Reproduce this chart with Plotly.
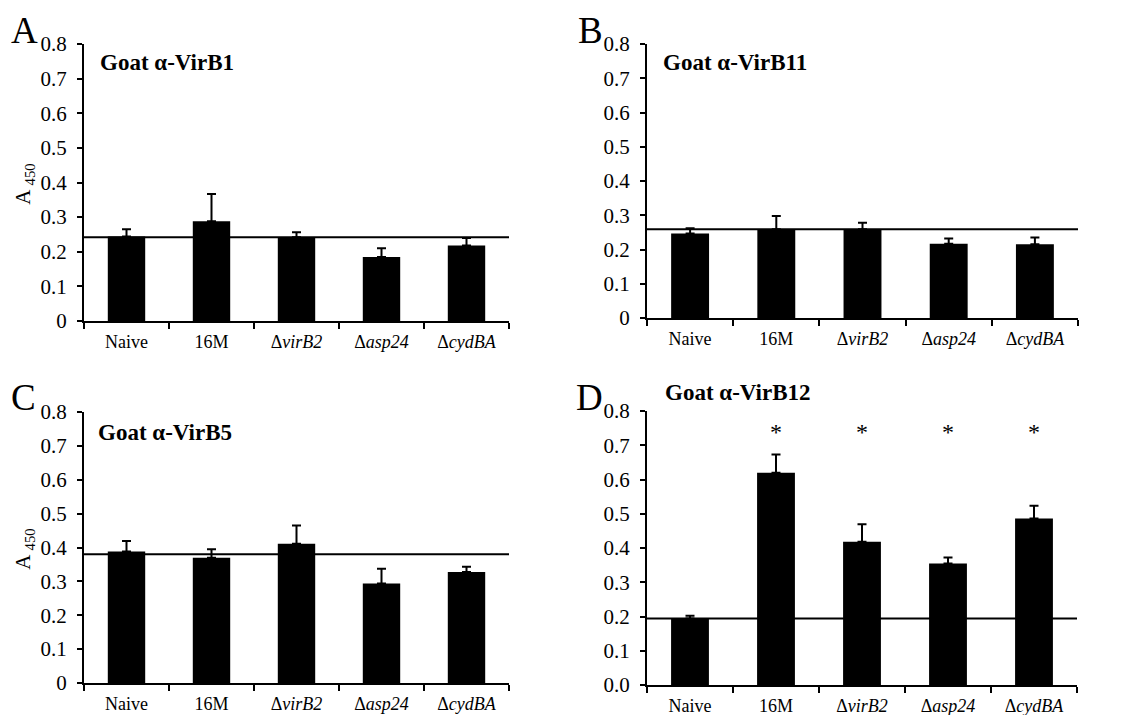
import plotly.graph_objects as go

categories = ["Naive", "16M", "Δ<i>virB2</i>", "Δ<i>asp24</i>", "Δ<i>cydBA</i>"]

virb1_mean = [0.244, 0.288, 0.242, 0.185, 0.218]
virb1_top = [0.265, 0.367, 0.256, 0.210, 0.240]
virb1_cut = 0.242

virb11_mean = [0.247, 0.259, 0.259, 0.217, 0.215]
virb11_top = [0.262, 0.298, 0.278, 0.232, 0.235]
virb11_cut = 0.259

virb5_mean = [0.388, 0.370, 0.411, 0.294, 0.328]
virb5_top = [0.419, 0.395, 0.465, 0.337, 0.343]
virb5_cut = 0.380

virb12_mean = [0.194, 0.620, 0.418, 0.355, 0.486]
virb12_top = [0.202, 0.673, 0.469, 0.372, 0.523]
virb12_cut = 0.194
virb12_sig = [None, "*", "*", "*", "*"]
sig_level = 0.74

yticks = [0, 0.1, 0.2, 0.3, 0.4, 0.5, 0.6, 0.7, 0.8]

W, H = 1123, 715
OFF = 8  # page body margin in the browser
FONT = "Liberation Serif"

panels = [
    dict(letter="A", title="Goat α-VirB1", mean=virb1_mean, top=virb1_top, cut=virb1_cut,
         px=(84, 509), py=(44, 321), title_pos=(98, 63), letter_pos=(9, 30), ylabel=True, fmt=None),
    dict(letter="B", title="Goat α-VirB11", mean=virb11_mean, top=virb11_top, cut=virb11_cut,
         px=(647, 1078), py=(44, 318), title_pos=(661, 63), letter_pos=(576, 30), ylabel=False, fmt=None),
    dict(letter="C", title="Goat α-VirB5", mean=virb5_mean, top=virb5_top, cut=virb5_cut,
         px=(84, 509), py=(412, 683), title_pos=(96, 432), letter_pos=(9, 397), ylabel=True, fmt=None),
    dict(letter="D", title="Goat α-VirB12", mean=virb12_mean, top=virb12_top, cut=virb12_cut,
         px=(647, 1077), py=(411, 685), title_pos=(663, 392), letter_pos=(574, 397), ylabel=False, fmt=".1f"),
]


def fx(v):
    return (v - OFF) / W


def fy(v):
    return 1 - (v - OFF) / H


fig = go.Figure()
annotations = []
shapes = []

for i, p in enumerate(panels):
    n = "" if i == 0 else str(i + 1)
    xa, ya = "x" + n, "y" + n
    err = [t - m for t, m in zip(p["top"], p["mean"])]
    fig.add_trace(go.Bar(
        x=categories, y=p["mean"], xaxis=xa, yaxis=ya,
        marker=dict(color="black", line=dict(width=0)),
        width=0.44,
        error_y=dict(type="data", symmetric=False, array=err, arrayminus=[0] * 5,
                     color="black", thickness=2, width=4.5),
        showlegend=False,
    ))
    xd = [fx(p["px"][0]), fx(p["px"][1])]
    yd = [fy(p["py"][1]), fy(p["py"][0])]
    fig.layout["xaxis" + n] = dict(
        domain=xd, anchor=ya, type="category", tickson="boundaries",
        ticks="outside", ticklen=6, tickwidth=2, tickcolor="black",
        showline=True, linecolor="black", linewidth=2, showgrid=False,
        tickfont=dict(family=FONT, size=18, color="black"), fixedrange=True,
        range=[-0.5, 4.5], automargin=False, ticklabelstandoff=3,
    )
    ycfg = dict(
        domain=yd, anchor=xa, range=[0, 0.8], tickvals=yticks,
        ticks="outside", ticklen=5, tickwidth=2, tickcolor="black",
        showline=True, linecolor="black", linewidth=2, showgrid=False, zeroline=False,
        tickfont=dict(family=FONT, size=21, color="black"), automargin=False,
        ticklabelstandoff=6,
    )
    if p["fmt"]:
        ycfg["tickformat"] = p["fmt"]
    fig.layout["yaxis" + n] = ycfg

    shapes.append(dict(type="line", xref=xa + " domain", yref=ya, x0=0, x1=1,
                       y0=p["cut"], y1=p["cut"], line=dict(color="black", width=2)))

    annotations.append(dict(text="<b>" + p["title"] + "</b>", xref="paper", yref="paper",
                            x=fx(p["title_pos"][0]), y=fy(p["title_pos"][1]),
                            xanchor="left", yanchor="middle", showarrow=False,
                            font=dict(family=FONT, size=23, color="black")))
    annotations.append(dict(text=p["letter"], xref="paper", yref="paper",
                            x=fx(p["letter_pos"][0]), y=fy(p["letter_pos"][1]),
                            xanchor="left", yanchor="middle", showarrow=False,
                            font=dict(family=FONT, size=37, color="black")))
    if p["ylabel"]:
        annotations.append(dict(text="A <sub>450</sub>", xref="paper", yref="paper",
                                x=fx(24), y=(yd[0] + yd[1]) / 2 - 0.003,
                                xanchor="center", yanchor="middle", textangle=-90,
                                showarrow=False,
                                font=dict(family=FONT, size=21, color="black")))

for c, s in zip(categories, virb12_sig):
    if s:
        annotations.append(dict(text=s, x=c, y=sig_level, xref="x4", yref="y4",
                                showarrow=False, yanchor="middle",
                                font=dict(family=FONT, size=24, color="black")))

fig.update_layout(
    width=W, height=H, margin=dict(l=0, r=0, t=0, b=0, autoexpand=False),
    paper_bgcolor="white", plot_bgcolor="white",
    annotations=annotations, shapes=shapes, bargap=0.56,
    font=dict(family=FONT, color="black"),
)

fig.write_html("out.html")
